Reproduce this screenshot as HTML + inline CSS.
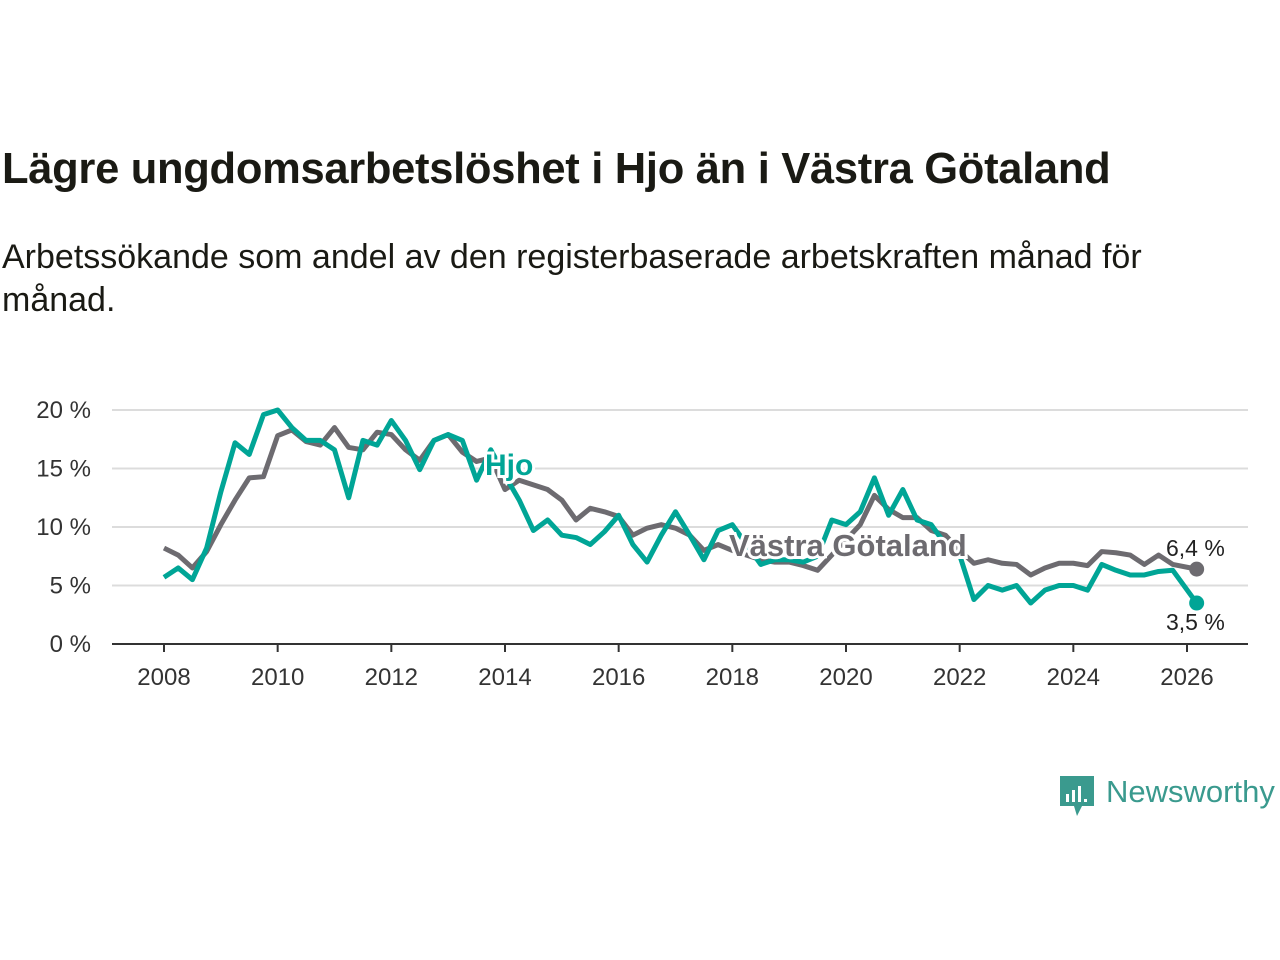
<!DOCTYPE html>
<html><head><meta charset="utf-8">
<style>
body{margin:0;background:#fff;width:1280px;height:960px;overflow:hidden;font-family:"Liberation Sans","DejaVu Sans",sans-serif;}
#title{position:absolute;left:2px;top:145px;font-size:43.5px;font-weight:bold;color:#1a1a14;margin:0;letter-spacing:-0.3px;white-space:nowrap}
#sub{position:absolute;left:2px;top:236px;font-size:34px;color:#1a1a14;line-height:43px;width:1185px;margin:0}
svg{position:absolute;left:0;top:0}
</style></head><body>
<h1 id="title">Lägre ungdomsarbetslöshet i Hjo än i Västra Götaland</h1>
<p id="sub">Arbetssökande som andel av den registerbaserade arbetskraften månad för månad.</p>
<svg width="1280" height="960">
<g id="grid"></g>
<g id="axes"></g>
<g id="lines"></g>
<g id="labels"></g>
<g>
<path d="M1060 776 h34 v30 h-12 l-5 10 -3 -10 h-14z" fill="#3a9a8e"/>
<rect x="1066" y="794" width="3" height="8" fill="#fff"/><rect x="1072" y="790" width="3" height="12" fill="#fff"/><rect x="1078" y="786" width="3" height="16" fill="#fff"/><rect x="1084" y="799" width="3" height="3" fill="#fff"/>
<text x="1106" y="802" font-size="31" fill="#3a9a8e" font-family="Liberation Sans, sans-serif">Newsworthy</text>
</g>
</svg>
<script>
const dates=[2008,2008.25,2008.5,2008.75,2009,2009.25,2009.5,2009.75,2010,2010.25,2010.5,2010.75,2011,2011.25,2011.5,2011.75,2012,2012.25,2012.5,2012.75,2013,2013.25,2013.5,2013.75,2014,2014.25,2014.5,2014.75,2015,2015.25,2015.5,2015.75,2016,2016.25,2016.5,2016.75,2017,2017.25,2017.5,2017.75,2018,2018.25,2018.5,2018.75,2019,2019.25,2019.5,2019.75,2020,2020.25,2020.5,2020.75,2021,2021.25,2021.5,2021.75,2022,2022.25,2022.5,2022.75,2023,2023.25,2023.5,2023.75,2024,2024.25,2024.5,2024.75,2025,2025.25,2025.5,2025.75,2026.17];
const vg=[8.2,7.6,6.5,7.9,10.2,12.3,14.2,14.3,17.8,18.3,17.3,17.0,18.5,16.8,16.6,18.1,17.9,16.6,15.7,17.4,17.9,16.4,15.6,15.9,13.2,14.0,13.6,13.2,12.3,10.6,11.6,11.3,10.9,9.3,9.9,10.2,9.9,9.3,8.0,8.5,8.0,7.6,7.2,7.0,7.0,6.7,6.3,7.6,8.9,10.2,12.7,11.5,10.8,10.8,9.7,9.3,8.0,6.9,7.2,6.9,6.8,5.9,6.5,6.9,6.9,6.7,7.9,7.8,7.6,6.8,7.6,6.8,6.4];
const hjo=[5.7,6.5,5.5,8.2,13.0,17.2,16.2,19.6,20.0,18.5,17.4,17.4,16.6,12.5,17.4,17.0,19.1,17.4,14.9,17.4,17.9,17.4,14.0,16.6,14.4,12.3,9.7,10.6,9.3,9.1,8.5,9.6,11.0,8.5,7.0,9.3,11.3,9.3,7.2,9.7,10.2,8.5,6.8,7.2,7.2,7.0,7.5,10.6,10.2,11.3,14.2,11.0,13.2,10.6,10.2,8.5,7.6,3.8,5.0,4.6,5.0,3.5,4.6,5.0,5.0,4.6,6.8,6.3,5.9,5.9,6.2,6.3,3.5];
const yTicks=[0,5,10,15,20];
const xTicks=[2008,2010,2012,2014,2016,2018,2020,2022,2024,2026];
const NS='http://www.w3.org/2000/svg';
const X=d=>164+(d-2008)*(1187-164)/18;
const Y=v=>644-v*11.7;
function mk(t,a,p){const e=document.createElementNS(NS,t);for(const k in a)e.setAttribute(k,a[k]);p.appendChild(e);return e;}
const grid=document.getElementById('grid'),axes=document.getElementById('axes'),lines=document.getElementById('lines'),labels=document.getElementById('labels');
yTicks.forEach(v=>{
 if(v>0){const l=mk('line',{x1:112,x2:1248,y1:Y(v),y2:Y(v),stroke:'#dcdcdc','stroke-width':2},grid);
 
 }
 const t=mk('text',{x:91,y:Y(v)+8,'text-anchor':'end','font-size':24,fill:'#333'},axes);t.textContent=v+' %';
 
 
});
const ax=mk('line',{x1:112,x2:1248,y1:644,y2:644,stroke:'#333','stroke-width':2},axes);


xTicks.forEach(d=>{
 mk('line',{x1:X(d),x2:X(d),y1:644,y2:652,stroke:'#333','stroke-width':2},axes);
 const t=mk('text',{x:X(d),y:685,'text-anchor':'middle','font-size':24,fill:'#333'},axes);t.textContent=d;
 
 
});
function series(vals,col,name){
 const p=mk('polyline',{points:vals.map((v,i)=>X(dates[i])+','+Y(v)).join(' '),fill:'none',stroke:col,'stroke-width':5,'stroke-linejoin':'round'},lines);
 
 
 const n=vals.length-1;
 const c=mk('circle',{cx:X(dates[n]),cy:Y(vals[n]),r:7.5,fill:col},lines);
 
 
}
series(vg,'#6d6b70','line-vastra-gotaland');
series(hjo,'#00a596','line-hjo');
function lab(x,y,txt,col,size,bold,name,halo){
 const t=mk('text',{x:x,y:y,'font-size':size,fill:col,'font-weight':bold?'bold':'normal',stroke:halo?'#fff':'none','stroke-width':halo?6:0,'paint-order':'stroke'},labels);
 t.textContent=txt;
 
 
}
lab(485,475,'Hjo','#00a596',30,true,'label-hjo',true);
lab(729,556,'Västra Götaland','#6d6b70',31,true,'label-vastra-gotaland',true);
lab(1166,556,'6,4 %','#222',23,false,'end-value-vg',true);
lab(1166,630,'3,5 %','#222',23,false,'end-value-hjo',true);
</script>
</body></html>
